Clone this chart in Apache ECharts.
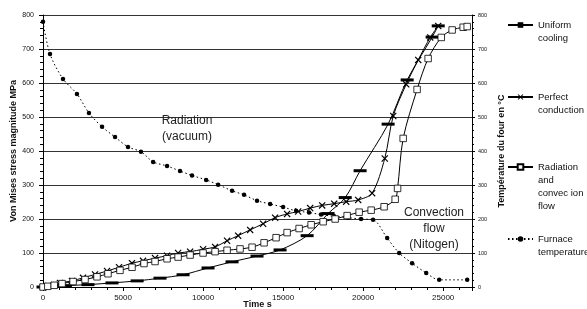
<!DOCTYPE html>
<html>
<head>
<meta charset="utf-8">
<script src="https://cdn.jsdelivr.net/npm/echarts@6/dist/echarts.min.js"></script>
<style>html,body{margin:0;padding:0;background:#fff;}#c{width:587px;height:309px;}</style>
</head>
<body>
<div id="c"></div>
<script>
// ---- data (time in s, stress in MPa / temperature in °C) ----
const seriesNames = ['Uniform cooling', 'Perfect conduction', 'Radiation and convec ion flow', 'Furnace temperature'];
const legendLines = [['Uniform', 'cooling'], ['Perfect', 'conduction'], ['Radiation', 'and', 'convec ion', 'flow'], ['Furnace', 'temperature']];

const uniformT = [0, 300, 700, 1400, 2810, 4310, 5880, 7310, 8750, 10310, 11810, 13370, 14810, 16500, 17810, 18880, 19810, 21560, 22750, 24310, 24690];
const uniformV = [0, 1, 2, 4, 7, 12, 18, 26, 36, 56, 74, 91, 109, 151, 216, 263, 342, 479, 609, 735, 768];

const conductT = [0, 300, 700, 1060, 1810, 2500, 3250, 4000, 4750, 5560, 6250, 7000, 7750, 8440, 9190, 10000, 10750, 11500, 12190, 12940, 13750, 14500, 15250, 15940, 16690, 17440, 18190, 18940, 19690, 20560, 21350, 21880, 22690, 23440, 24190, 24690];
const conductV = [0, 3, 6, 12, 18, 27, 37, 47, 58, 70, 77, 85, 92, 100, 104, 111, 118, 136, 151, 168, 186, 204, 215, 222, 232, 240, 245, 251, 256, 276, 378, 503, 596, 668, 734, 768];

const radConvT = [0, 300, 700, 1190, 1880, 2625, 3375, 4060, 4810, 5560, 6310, 7000, 7750, 8440, 9190, 10000, 10750, 11500, 12310, 13060, 13810, 14560, 15250, 16000, 16750, 17500, 18250, 19000, 19750, 20500, 21310, 22000, 22150, 22500, 23370, 24060, 24880, 25560, 26250, 26500];
const radConvV = [0, 2, 5, 10, 16, 22, 30, 39, 49, 58, 69, 75, 83, 88, 94, 100, 104, 108, 112, 117, 130, 145, 160, 172, 183, 192, 200, 210, 220, 226, 236, 258, 290, 437, 581, 672, 734, 756, 764, 766];

const furnaceT = [0, 437, 1250, 2120, 2870, 3690, 4500, 5310, 6120, 6880, 7750, 8560, 9310, 10190, 10940, 11810, 12560, 13370, 14190, 15000, 15810, 16620, 17370, 18190, 19060, 19870, 20620, 21500, 22250, 23060, 23940, 24750, 26500];
const furnaceV = [780, 685, 612, 568, 512, 471, 441, 412, 398, 368, 356, 341, 328, 315, 301, 283, 271, 254, 244, 235, 224, 219, 213, 208, 204, 200, 198, 144, 100, 70, 41, 21, 21];

const xTicks = [0, 5000, 10000, 15000, 20000, 25000];
const yTicks = [0, 100, 200, 300, 400, 500, 600, 700, 800];

const annotations = [
  {lines: ['Radiation', '(vacuum)'], x: 187, y: 113},
  {lines: ['Convection', 'flow', '(Nitogen)'], x: 434, y: 205}
];

// ---- build ----
const F = '"Liberation Sans", Arial, sans-serif';
const pairs = (t, v) => t.map((x, i) => [x, v[i]]);
const crossPath = 'path://M0,1.2L1.2,0L5,3.8L8.8,0L10,1.2L6.2,5L10,8.8L8.8,10L5,6.2L1.2,10L0,8.8L3.8,5Z';

const chart = echarts.init(document.getElementById('c'), null, {renderer: 'canvas'});

function legendFor(i, iconY) {
  const n = legendLines[i].length;
  const lh = 13;
  const pre = new Array(n - 1).fill(' ');
  const text = pre.concat(legendLines[i]).join('\n');
  const h = (2 * n - 1) * lh;
  return {
    data: [seriesNames[i]], orient: 'vertical', left: 507, top: iconY - h / 2,
    padding: 0, itemWidth: 25, itemHeight: 7,
    formatter: () => text,
    textStyle: {fontFamily: F, fontSize: 9.5, color: '#111', lineHeight: lh},
    selectedMode: false
  };
}

const option = {
  backgroundColor: '#fff',
  animation: false,
  textStyle: {fontFamily: F},
  grid: {left: 43, right: 115, top: 15, bottom: 22, containLabel: false, outerBoundsMode: 'none'},
  xAxis: {
    type: 'value', min: 0, max: 26800, interval: 5000,
    name: 'Time s', nameLocation: 'middle', nameGap: 13, nameMoveOverlap: false,
    nameTextStyle: {fontFamily: F, fontSize: 9, fontWeight: 'bold', color: '#111'},
    axisLine: {show: true, onZero: false, lineStyle: {color: '#000', width: 1}},
    axisTick: {show: true, length: 4, lineStyle: {color: '#000'}},
    minorTick: {show: true, splitNumber: 5, length: 3, lineStyle: {color: '#000'}},
    splitLine: {show: false},
    axisLabel: {fontFamily: F, fontSize: 8, color: '#111', margin: 7, showMaxLabel: false,
      formatter: v => (xTicks.indexOf(v) >= 0 ? String(v) : '')}
  },
  yAxis: [{
    type: 'value', min: 0, max: 800, interval: 100, position: 'left',
    name: 'Von Mises stress magnitude MPa', nameLocation: 'middle', nameGap: 25, nameMoveOverlap: false,
    nameTextStyle: {fontFamily: F, fontSize: 9, fontWeight: 'bold', color: '#111'},
    axisLine: {show: true, lineStyle: {color: '#000', width: 1}},
    axisTick: {show: true, length: 4, lineStyle: {color: '#000'}},
    minorTick: {show: true, splitNumber: 5, length: 3, lineStyle: {color: '#000'}},
    splitLine: {show: true, lineStyle: {color: '#333', width: 1}},
    axisLabel: {fontFamily: F, fontSize: 7, color: '#111', margin: 9,
      formatter: v => (yTicks.indexOf(v) >= 0 ? String(v) : '')}
  }, {
    type: 'value', min: 0, max: 800, interval: 100, position: 'right',
    name: 'Température du four en °C', nameLocation: 'middle', nameGap: 25, nameMoveOverlap: false,
    nameTextStyle: {fontFamily: F, fontSize: 9, fontWeight: 'bold', color: '#111'},
    axisLine: {show: true, lineStyle: {color: '#000', width: 1}},
    axisTick: {show: true, length: 3, lineStyle: {color: '#000'}},
    minorTick: {show: true, splitNumber: 5, length: 2, lineStyle: {color: '#000'}},
    splitLine: {show: false},
    axisLabel: {fontFamily: F, fontSize: 5.5, color: '#111', margin: 6,
      formatter: v => (yTicks.indexOf(v) >= 0 ? String(v) : '')}
  }],
  legend: [legendFor(0, 25), legendFor(1, 97), legendFor(2, 167), legendFor(3, 239)],
  graphic: annotations.map(a => ({
    type: 'text', x: a.x, y: a.y, z: 50,
    style: {text: a.lines.join('\n'), fontFamily: F, fontSize: 12, lineHeight: 16,
      fill: '#222', textAlign: 'center'}
  })),
  series: [
    {
      name: seriesNames[0], type: 'line', data: pairs(uniformT, uniformV),
      smooth: 0.3, symbol: 'rect', symbolSize: [13, 3],
      lineStyle: {color: '#000', width: 1}, itemStyle: {color: '#000'}, z: 3
    },
    {
      name: seriesNames[1], type: 'line', data: pairs(conductT, conductV),
      smooth: 0.3, symbol: crossPath, symbolSize: 7,
      lineStyle: {color: '#000', width: 1}, itemStyle: {color: '#000'}, z: 4
    },
    {
      name: seriesNames[2], type: 'line', data: pairs(radConvT, radConvV),
      smooth: 0.3, symbol: 'rect', symbolSize: 6.5,
      lineStyle: {color: '#000', width: 1}, itemStyle: {color: '#fff', borderColor: '#000', borderWidth: 0.8}, z: 5
    },
    {
      name: seriesNames[3], type: 'line', yAxisIndex: 1, data: pairs(furnaceT, furnaceV),
      smooth: 0.3, symbol: 'circle', symbolSize: 4.5,
      lineStyle: {color: '#000', width: 1, type: [1.5, 2.5]}, itemStyle: {color: '#000'}, z: 2
    }
  ]
};
chart.setOption(option);
</script>
</body>
</html>
